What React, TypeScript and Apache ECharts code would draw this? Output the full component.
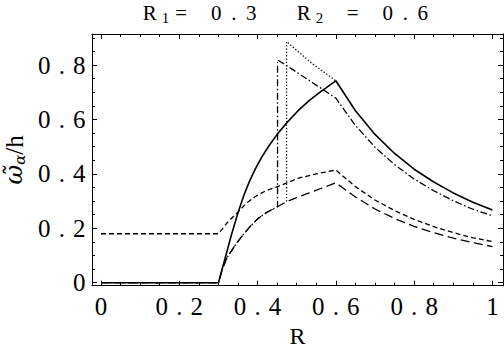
import React, { useEffect, useRef } from "react";
import * as echarts from "echarts";

// ---- data ----
const solidR = [0, 0.3, 0.317, 0.334, 0.351, 0.366, 0.38, 0.395, 0.41, 0.43, 0.451, 0.478, 0.504, 0.534, 0.564, 0.6, 0.65, 0.7, 0.75, 0.8, 0.85, 0.9, 0.95, 1];
const solidV = [0, 0, 0.09, 0.18, 0.262, 0.325, 0.375, 0.42, 0.46, 0.505, 0.547, 0.593, 0.633, 0.672, 0.705, 0.742, 0.632, 0.545, 0.475, 0.417, 0.37, 0.33, 0.296, 0.267];

const dashDotR = [0, 0.3, 0.31, 0.321, 0.34, 0.359, 0.38, 0.402, 0.425, 0.451, 0.451, 0.49, 0.53, 0.565, 0.6, 0.65, 0.7, 0.75, 0.8, 0.85, 0.9, 0.95, 1];
const dashDotV = [0, 0, 0.05, 0.09, 0.132, 0.169, 0.205, 0.237, 0.26, 0.279, 0.819, 0.783, 0.745, 0.712, 0.678, 0.578, 0.498, 0.434, 0.381, 0.338, 0.301, 0.27, 0.246];

const dottedR = [0.474, 0.474, 0.538, 0.6];
const dottedV = [0.298, 0.886, 0.807, 0.742];

const shortDashR = [0, 0.3, 0.325, 0.351, 0.37, 0.393, 0.42, 0.451, 0.504, 0.55, 0.6, 0.65, 0.7, 0.75, 0.8, 0.85, 0.9, 0.95, 1];
const shortDashV = [0.18, 0.18, 0.225, 0.261, 0.29, 0.316, 0.337, 0.353, 0.384, 0.4, 0.414, 0.353, 0.304, 0.265, 0.233, 0.206, 0.184, 0.165, 0.151];

const longDashR = [0, 0.3, 0.31, 0.321, 0.34, 0.359, 0.38, 0.402, 0.425, 0.451, 0.474, 0.5, 0.53, 0.565, 0.6, 0.65, 0.7, 0.75, 0.8, 0.85, 0.9, 0.95, 1];
const longDashV = [0, 0, 0.05, 0.09, 0.132, 0.169, 0.205, 0.237, 0.26, 0.279, 0.298, 0.313, 0.329, 0.348, 0.367, 0.315, 0.271, 0.236, 0.207, 0.184, 0.164, 0.147, 0.133];

const majorX = [0, 0.2, 0.4, 0.6, 0.8, 1];
const minorX = [0.05, 0.1, 0.15, 0.25, 0.3, 0.35, 0.45, 0.5, 0.55, 0.65, 0.7, 0.75, 0.85, 0.9, 0.95];
const majorY = [0, 0.2, 0.4, 0.6, 0.8];
const minorY = [0.05, 0.1, 0.15, 0.25, 0.3, 0.35, 0.45, 0.5, 0.55, 0.65, 0.7, 0.75, 0.85, 0.9];

const xMin = -0.023;
const xMax = 1.027;
const yMin = -0.011;
const yMax = 0.914;

const FONT = "Liberation Serif";
const MATH = "DejaVu Serif";

function spaced(s: string, tok: string): string {
  return s
    .split("")
    .map((c) => `{${tok}|${c}}`)
    .join("");
}

function fmt(v: number): string {
  if (Math.abs(v) < 1e-9) return "0";
  if (Math.abs(v - 1) < 1e-9) return "1";
  return v.toFixed(1);
}

const labelRich = {
  c: { width: 17.5, align: "center", fontSize: 25, fontFamily: FONT, color: "#000" },
};

function xAxisDef(position: string, ticks: number[], len: number, label: boolean, line: boolean, name?: boolean) {
  return {
    type: "value",
    position,
    min: xMin,
    max: xMax,
    name: name ? "R" : "",
    nameLocation: "middle",
    nameGap: 38,
    nameTextStyle: { fontSize: 24, lineHeight: 18, fontFamily: FONT, color: "#000" },
    axisLine: { show: line, onZero: false, lineStyle: { color: "#000", width: 1 } },
    axisTick: { show: true, inside: true, length: len, customValues: ticks, lineStyle: { color: "#000", width: 1 } },
    axisLabel: label
      ? { show: true, customValues: ticks, margin: 8, fontFamily: FONT, formatter: (v: number) => spaced(fmt(v), "c"), rich: labelRich }
      : { show: false },
    splitLine: { show: false },
  };
}

function yAxisDef(position: string, ticks: number[], len: number, label: boolean, line: boolean, name?: boolean) {
  return {
    type: "value",
    position,
    min: yMin,
    max: yMax,
    name: name ? "{w|\u03c9\u0303}{a|\u03b1}{h|/h}" : "",
    nameLocation: "middle",
    nameRotate: 90,
    nameGap: 60,
    nameTextStyle: {
      color: "#000",
      rich: {
        w: { fontSize: 24, lineHeight: 26, fontFamily: MATH, fontStyle: "italic", color: "#000" },
        a: { fontSize: 15, lineHeight: 15, padding: [11, 0, 0, 0], fontFamily: MATH, fontStyle: "italic", color: "#000" },
        h: { fontSize: 25, lineHeight: 26, fontFamily: FONT, color: "#000" },
      },
    },
    axisLine: { show: line, onZero: false, lineStyle: { color: "#000", width: 1 } },
    axisTick: { show: true, inside: true, length: len, customValues: ticks, lineStyle: { color: "#000", width: 1 } },
    axisLabel: label
      ? { show: true, customValues: ticks, margin: 4, fontFamily: FONT, formatter: (v: number) => spaced(fmt(v), "c"), rich: labelRich }
      : { show: false },
    splitLine: { show: false },
  };
}

function line(name: string, R: number[], V: number[], type: any, width: number) {
  return {
    name,
    type: "line",
    xAxisIndex: 0,
    yAxisIndex: 0,
    data: R.map((r, i) => [r, V[i]]),
    symbol: "none",
    silent: true,
    lineStyle: { color: "#000", width, type },
  };
}

export default function App() {
  const ref = useRef<HTMLDivElement>(null);
  useEffect(() => {
    if (!ref.current) return;
    const chart = echarts.init(ref.current, undefined, { renderer: "svg" });
    const titleText =
      "{m|R}{s|1}" + spaced("= 0.3  ", "m") + "{m|R}{s|2}" + spaced(" = 0.6", "m");
    chart.setOption({
      animation: false,
      backgroundColor: "#fff",
      textStyle: { fontFamily: FONT },
      grid: { left: 92, right: 1, top: 34, bottom: 62.3, containLabel: false, outerBoundsMode: "none" },
      xAxis: [
        xAxisDef("bottom", majorX, 5, true, true, true),
        xAxisDef("bottom", minorX, 3, false, false),
        xAxisDef("top", majorX, 5, false, true),
        xAxisDef("top", minorX, 3, false, false),
      ],
      yAxis: [
        yAxisDef("left", majorY, 5, true, true, true),
        yAxisDef("left", minorY, 3, false, false),
        yAxisDef("right", majorY, 5, false, true),
        yAxisDef("right", minorY, 3, false, false),
      ],
      series: [
        line("solid", solidR, solidV, "solid", 1.6),
        line("dashdot", dashDotR, dashDotV, [7, 2.5, 1.5, 2.5], 1.3),
        line("dotted", dottedR, dottedV, [1.3, 2], 1.3),
        line("shortdash", shortDashR, shortDashV, [5, 3], 1.3),
        line("longdash", longDashR, longDashV, [9, 4.5], 1.3),
      ],
      graphic: [
        {
          type: "text",
          left: 141,
          top: 0,
          silent: true,
          style: {
            text: titleText,
            fontFamily: FONT,
            rich: {
              m: { width: 17.5, align: "center", fontSize: 21, lineHeight: 24, fontFamily: FONT, color: "#000" },
              s: { width: 14, align: "center", fontSize: 15, lineHeight: 14, padding: [10, 0, 0, 0], fontFamily: FONT, color: "#000" },
            },
          },
        },
      ],
    });
    return () => chart.dispose();
  }, []);
  return (
    <div
      ref={ref}
      style={{ position: "fixed", left: 0, top: 0, width: 504, height: 348, background: "#fff" }}
    />
  );
}
